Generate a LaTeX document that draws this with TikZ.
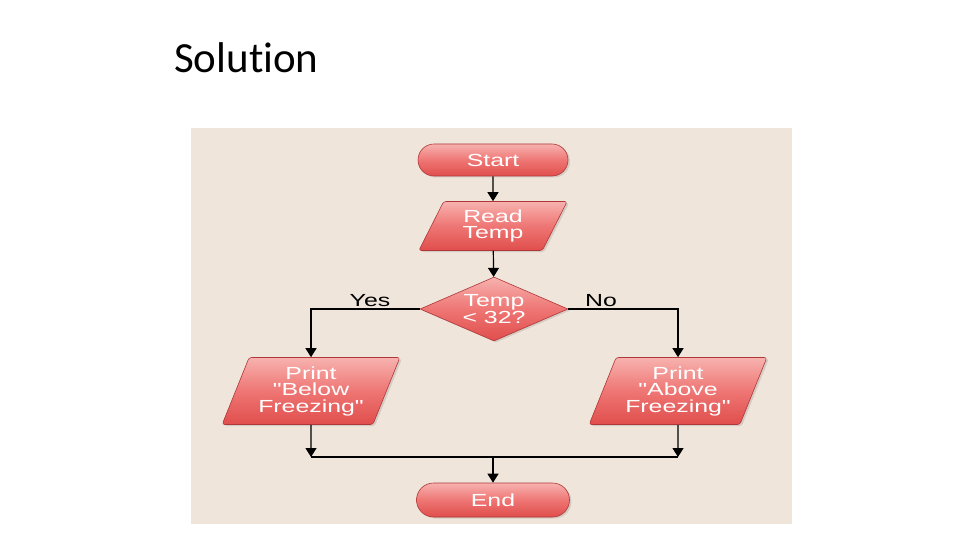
\documentclass[tikz,border=0pt]{standalone}
\usepackage{fontspec}
\setmainfont{Liberation Sans}
\newfontfamily\titlefont[Ligatures=NoCommon]{Carlito}
\newfontfamily\boxfont[FakeStretch=1.42]{Liberation Sans}
\usetikzlibrary{shapes.geometric,shapes.misc,arrows.meta,shadows}
\definecolor{panel}{RGB}{240,229,219}
\definecolor{boxtop}{RGB}{247,178,175}
\definecolor{boxmid}{RGB}{238,118,116}
\definecolor{boxbot}{RGB}{224,78,76}
\definecolor{boxline}{RGB}{175,55,55}
\tikzset{
  box/.style={top color=boxtop, bottom color=boxbot, middle color=boxmid,
    draw=boxline, line width=0.6pt, text=white, align=center, inner sep=0pt,
    font=\boxfont\fontsize{17.5}{16.5}\selectfont,
    drop shadow={shadow xshift=2pt, shadow yshift=-1.5pt, opacity=0.25}},
  term/.style={box, rounded rectangle, minimum width=150pt, minimum height=32pt},
  io/.style={box, trapezium, trapezium left angle=65, trapezium right angle=115,
    trapezium stretches=true, rounded corners=2.5pt},
  decision/.style={box, diamond, aspect=2.3, minimum width=148pt, minimum height=64pt},
  arr/.style={line width=1.2pt, -{Triangle[width=11pt,length=9pt]}},
  ln/.style={line width=1.2pt},
  lbl/.style={font=\boxfont\fontsize{17.5}{17.5}\selectfont, text=black}
}
\begin{document}
\begin{tikzpicture}[x=1pt,y=-1pt]
\useasboundingbox[fill=white] (0,0) rectangle (960,540);
\node[anchor=base west, inner sep=0pt, font=\titlefont\fontsize{43}{43}\selectfont] (title) at (174,73) {Solution};
\fill[panel] (191,128) rectangle (792,524);

\node[term] (start) at (493,160) {Start};
\node[io, minimum width=149pt, minimum height=49pt] (read) at (493,226) {Read\\Temp};
\node[decision] (dec) at (494,309) {Temp\\< 32?};
\node[io, minimum width=178pt, minimum height=67pt] (below) at (311,391) {Print\\"Below\\Freezing"};
\node[io, minimum width=178pt, minimum height=67pt] (above) at (678,391) {Print\\"Above\\Freezing"};
\node[term, minimum width=153pt, minimum height=34pt] (end) at (493,500) {End};

\coordinate (jl) at (311,457);
\coordinate (jr) at (678,457);
\coordinate (jm) at (493,457);

\draw[arr] (start) -- (read);
\draw[arr] (read) -- (dec);
\draw[arr] (dec.west) -| (below.north);
\draw[arr] (dec.east) -| (above.north);
\node[lbl] (yes) at (370,301) {Yes};
\node[lbl] (no) at (601,301) {No};
\draw[arr] (below.south) -- (jl);
\draw[arr] (above.south) -- (jr);
\draw[ln] (jl) -- (jr);
\draw[arr] (jm) -- (end.north);
\end{tikzpicture}
\end{document}
